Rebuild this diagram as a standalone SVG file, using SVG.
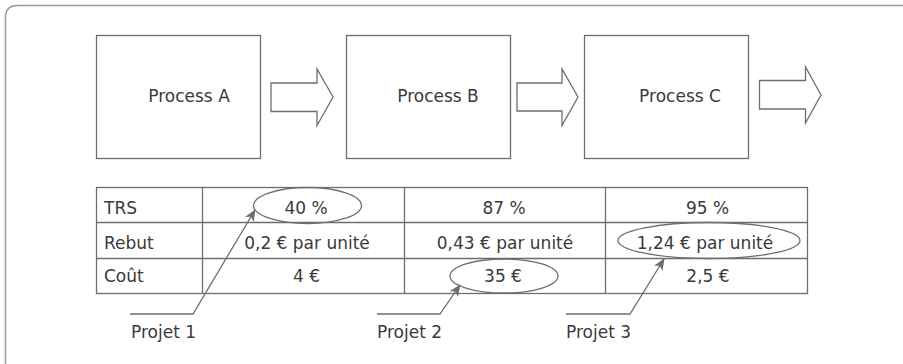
<svg xmlns="http://www.w3.org/2000/svg" width="903" height="364" viewBox="0 0 903 364">
<style>
  .ln{fill:none;stroke:#6e6e6e;stroke-width:1.3}
  .bx{fill:#fff;stroke:#6e6e6e;stroke-width:1.3}
  .t{font-family:"DejaVu Sans","Liberation Sans",sans-serif;font-size:17px;fill:#3a3a3a}
  .c{text-anchor:middle}
</style>
<defs>
  <marker id="ah" viewBox="0 0 12 10" refX="11" refY="5" markerWidth="12" markerHeight="10" markerUnits="userSpaceOnUse" orient="auto">
    <path d="M0,0 L12,5 L0,10 L3,5 Z" fill="#6e6e6e"/>
  </marker>
</defs>
<rect width="903" height="364" fill="#fff"/>
<path d="M5.5,364 V17.5 Q5.5,5.5 17.5,5.5 H903" fill="none" stroke="#9a9a9a" stroke-width="1.5"/>

<g id="processA">
  <rect class="bx" x="96.5" y="35.5" width="164" height="123"/>
  <text class="t c" x="189" y="102">Process A</text>
</g>
<g id="processB">
  <rect class="bx" x="346.5" y="35.5" width="164" height="123"/>
  <text class="t c" x="438" y="102">Process B</text>
</g>
<g id="processC">
  <rect class="bx" x="584.5" y="35.5" width="164" height="123"/>
  <text class="t c" x="680" y="102">Process C</text>
</g>

<g id="arrows">
  <path class="bx" d="M271,83 H317 V69 L333,97 L317,125.5 V111.5 H271 Z"/>
  <path class="bx" d="M517,83 H562 V69 L578,97 L562,125.5 V111 H517 Z"/>
  <path class="bx" d="M759.5,80.5 H805.5 V67 L821,95 L805.5,123 V109 H759.5 Z"/>
</g>

<g id="table">
  <rect class="ln" x="96.5" y="187.5" width="711" height="106"/>
  <line class="ln" x1="96.5" y1="222.5" x2="807.5" y2="222.5"/>
  <line class="ln" x1="96.5" y1="258.5" x2="807.5" y2="258.5"/>
  <line class="ln" x1="202.5" y1="187.5" x2="202.5" y2="293.5"/>
  <line class="ln" x1="404.5" y1="187.5" x2="404.5" y2="293.5"/>
  <line class="ln" x1="605.5" y1="187.5" x2="605.5" y2="293.5"/>
  <text class="t" x="104" y="214">TRS</text>
  <text class="t" x="104" y="248.5">Rebut</text>
  <text class="t" x="104" y="282">Coût</text>
  <text class="t c" x="306" y="214">40 %</text>
  <text class="t c" x="307" y="248.5">0,2 € par unité</text>
  <text class="t c" x="306.5" y="282">4 €</text>
  <text class="t c" x="504" y="214">87 %</text>
  <text class="t c" x="505" y="248.5">0,43 € par unité</text>
  <text class="t c" x="503" y="282">35 €</text>
  <text class="t c" x="707.5" y="214">95 %</text>
  <text class="t c" x="705" y="248.5">1,24 € par unité</text>
  <text class="t c" x="708" y="282">2,5 €</text>
</g>

<g id="highlights">
  <ellipse class="ln" cx="307.5" cy="205.5" rx="54" ry="18"/>
  <ellipse class="ln" cx="504" cy="276" rx="54" ry="17"/>
  <ellipse class="ln" cx="709" cy="240.5" rx="91" ry="18"/>
</g>

<g id="connectors">
  <polyline class="ln" points="130,314 193,314 255,210" marker-end="url(#ah)"/>
  <polyline class="ln" points="377,314 440,314 460,285" marker-end="url(#ah)"/>
  <polyline class="ln" points="566,314 630,314 664,259" marker-end="url(#ah)"/>
</g>

<g id="labels">
  <text class="t" x="131" y="338">Projet 1</text>
  <text class="t" x="377" y="338">Projet 2</text>
  <text class="t" x="566" y="338">Projet 3</text>
</g>
</svg>
